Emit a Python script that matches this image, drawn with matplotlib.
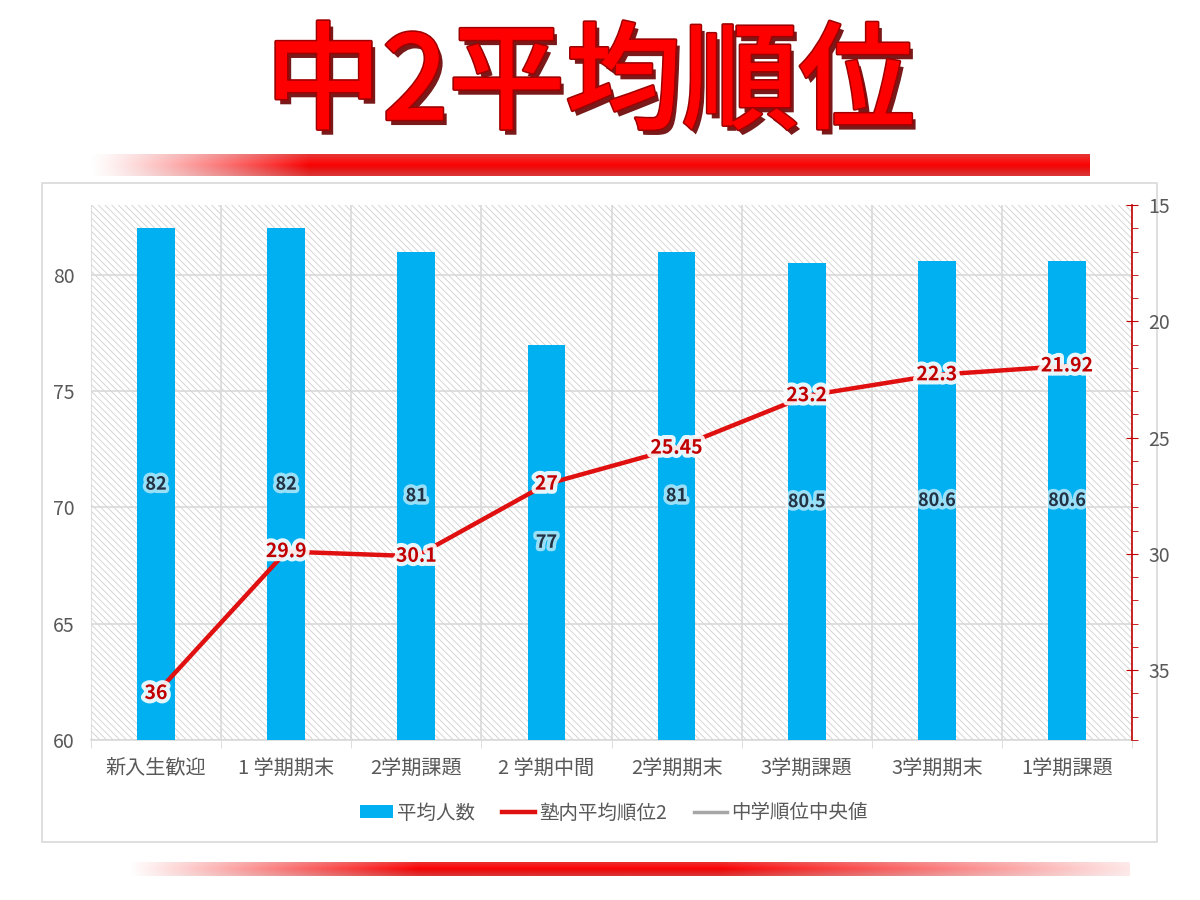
import numpy as np
import matplotlib
matplotlib.use("Agg")
import matplotlib.pyplot as plt
import matplotlib.patheffects as pe
from matplotlib.patches import Rectangle
from matplotlib.lines import Line2D
from matplotlib.ticker import MultipleLocator

plt.rcParams["font.family"] = ["Noto Sans CJK JP", "DejaVu Sans"]
plt.rcParams["hatch.color"] = "#cfcfcf"
plt.rcParams["hatch.linewidth"] = 0.6

# data
categories = ["新入生歓迎", "1 学期期末", "2学期課題", "2 学期中間", "2学期期末", "3学期課題", "3学期期末", "1学期課題"]
avg_count = [82, 82, 81, 77, 81, 80.5, 80.6, 80.6]
avg_rank = [36, 29.9, 30.1, 27, 25.45, 23.2, 22.3, 21.92]
rank_labels = ["36", "29.9", "30.1", "27", "25.45", "23.2", "22.3", "21.92"]
count_labels = ["82", "82", "81", "77", "81", "80.5", "80.6", "80.6"]

BLUE = "#00B0F0"
RED = "#E01010"
GREY_TXT = "#595959"

fig = plt.figure(figsize=(12, 9), dpi=100)
fig.patch.set_facecolor("white")

# chart frame
frame = Rectangle((42 / 1200, 1 - 842 / 900), 1115 / 1200, 659 / 900, transform=fig.transFigure,
                  facecolor="white", edgecolor="#d9d9d9", linewidth=1.2, zorder=-5)
fig.patches.append(frame)

ax = fig.add_axes([91 / 1200, 1 - 740 / 900, 1041 / 1200, 535 / 900])
ax.set_facecolor("white")
ax.add_patch(Rectangle((0, 0), 1, 1, transform=ax.transAxes, facecolor="white",
                       edgecolor="#cfcfcf", hatch="\\\\\\\\\\", linewidth=0, zorder=0))

x = np.arange(len(categories))
ax.bar(x, avg_count, width=0.29, color=BLUE, zorder=3)
ax.set_ylim(60, 83)
ax.set_xlim(-0.5, len(categories) - 0.5)
ax.set_yticks([60, 65, 70, 75, 80])
ax.set_xticks(x)
ax.set_xticklabels(categories)
ax.set_xticks(np.arange(-0.5, len(categories)), minor=True)
ax.grid(axis="y", color="#d9d9d9", linewidth=1.2, zorder=1)
ax.grid(axis="x", which="minor", color="#d9d9d9", linewidth=1.2, zorder=1)
ax.tick_params(axis="x", which="major", length=0, pad=13, labelsize=14.5, labelcolor=GREY_TXT)
ax.tick_params(axis="x", which="minor", length=6, color="#d9d9d9")
ax.tick_params(axis="y", length=0, pad=12, labelsize=14, labelcolor=GREY_TXT)
for s in ["left", "top", "right"]:
    ax.spines[s].set_visible(False)
ax.spines["bottom"].set_color("#d9d9d9")
ax.spines["bottom"].set_linewidth(1.2)
ax.set_axisbelow(True)

glow = [pe.withStroke(linewidth=5, foreground="white", alpha=0.6)]
for xi, v, lab in zip(x, avg_count, count_labels):
    ax.text(xi, (60 + v) / 2, lab, ha="center", va="center", fontsize=13,
            color="#203345", fontweight="bold", zorder=5, path_effects=glow)

ax2 = ax.twinx()
ax2.set_ylim(38, 15)
ax2.plot(x, avg_rank, color=RED, linewidth=3.2, zorder=4, solid_capstyle="round")
ax2.yaxis.set_major_locator(MultipleLocator(5))
ax2.yaxis.set_minor_locator(MultipleLocator(1))
ax2.tick_params(axis="y", which="major", length=8, direction="inout", color="#c00000",
                labelsize=14, labelcolor=GREY_TXT, pad=8)
ax2.tick_params(axis="y", which="minor", length=4, direction="out", color="#c00000")
for s in ["left", "top", "bottom"]:
    ax2.spines[s].set_visible(False)
ax2.spines["right"].set_color("#c00000")
ax2.spines["right"].set_linewidth(1.2)

glow2 = [pe.withStroke(linewidth=6, foreground="white", alpha=0.9)]
for xi, v, lab in zip(x, avg_rank, rank_labels):
    ax2.text(xi, v, lab, ha="center", va="center", fontsize=14, color="#C00000",
             fontweight="bold", zorder=6, path_effects=glow2)

# legend
handles = [
    Rectangle((0, 0), 1, 1, facecolor=BLUE, edgecolor="none"),
    Line2D([0], [0], color=RED, linewidth=3.2),
    Line2D([0], [0], color="#a6a6a6", linewidth=2.5),
]
fig.legend(handles, ["平均人数", "塾内平均順位2", "中学順位中央値"], loc="center",
           bbox_to_anchor=(614 / 1200, 1 - 813 / 900), ncol=3, frameon=False,
           fontsize=14, labelcolor=GREY_TXT, handlelength=1.7, handletextpad=0.2,
           columnspacing=1.4, handleheight=0.6)

# title
fig.text(590 / 1200, 1 - 86 / 900, "中2平均順位", ha="center", va="center", fontsize=84,
         fontweight="medium", color="#FF0000",
         path_effects=[pe.withSimplePatchShadow(offset=(3, -4), shadow_rgbFace="#6a0000", alpha=0.9),
                       pe.withStroke(linewidth=2.5, foreground="#A00000"),
                       pe.Normal()])

# red gradient bars
def gradient_bar(rect, alpha_ramp):
    bax = fig.add_axes(rect)
    n = alpha_ramp.size
    rows = np.linspace(0, 1, 12)
    img = np.zeros((rows.size, n, 4))
    shade = 1 - 0.3 * np.abs(rows - 0.4)
    img[:, :, 0] = shade[:, None]
    img[:, :, 3] = alpha_ramp[None, :] * (0.8 + 0.2 * (1 - np.abs(rows - 0.5) * 2))[:, None]
    bax.imshow(img, aspect="auto", interpolation="bilinear")
    bax.axis("off")

t = np.linspace(0, 1, 400)
top_alpha = np.clip(t / 0.22, 0, 1) ** 1.2
gradient_bar([88 / 1200, 1 - 176 / 900, 1002 / 1200, 22 / 900], top_alpha)
bot_alpha = np.where(t < 0.29, t / 0.29, np.where(t < 0.59, 1.0, 1 - 0.9 * (t - 0.59) / 0.41))
gradient_bar([128 / 1200, 1 - 876 / 900, 1002 / 1200, 14 / 900], bot_alpha)

fig.savefig("out.png", dpi=100)
